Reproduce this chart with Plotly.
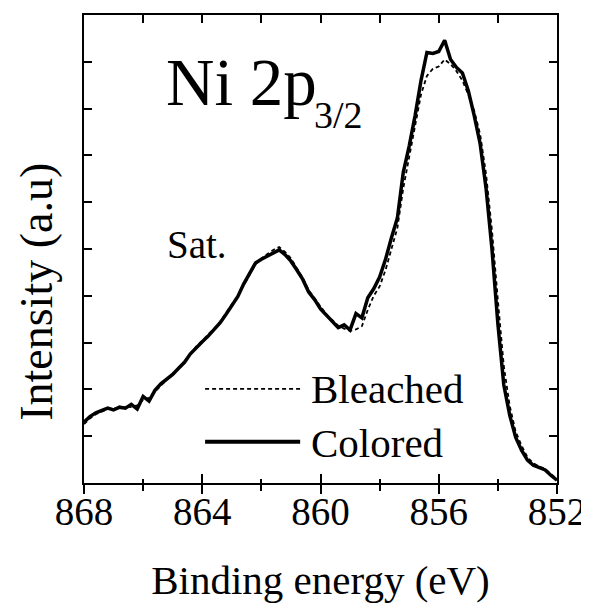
import plotly.graph_objects as go

energy = [868.0, 867.8, 867.6, 867.4, 867.2, 867.0, 866.8, 866.6, 866.4, 866.2,
          866.0, 865.8, 865.6, 865.4, 865.2, 865.0, 864.8, 864.6, 864.4, 864.2,
          864.0, 863.8, 863.6, 863.4, 863.2, 863.0, 862.8, 862.6, 862.4, 862.2,
          862.0, 861.8, 861.6, 861.4, 861.2, 861.0, 860.8, 860.6, 860.4, 860.2,
          860.0, 859.8, 859.6, 859.4, 859.2, 859.0, 858.8, 858.6, 858.4, 858.2,
          858.0, 857.8, 857.6, 857.4, 857.2, 857.0, 856.8, 856.6, 856.4, 856.2,
          856.0, 855.8, 855.6, 855.4, 855.2, 855.0, 854.8, 854.6, 854.4, 854.2,
          854.0, 853.8, 853.6, 853.4, 853.2, 853.0, 852.8, 852.6, 852.4, 852.2,
          852.0]

colored = [1.30, 1.42, 1.50, 1.55, 1.60, 1.56, 1.62, 1.60, 1.68, 1.58,
           1.85, 1.75, 1.98, 2.12, 2.22, 2.32, 2.45, 2.58, 2.76, 2.90,
           3.02, 3.14, 3.28, 3.42, 3.60, 3.78, 3.98, 4.25, 4.48, 4.70,
           4.78, 4.85, 4.92, 4.98, 4.88, 4.74, 4.55, 4.35, 4.08, 3.92,
           3.72, 3.58, 3.45, 3.32, 3.38, 3.27, 3.62, 3.53, 3.96, 4.15,
           4.40, 4.78, 5.24, 5.66, 6.64, 7.20, 7.85, 8.60, 9.20, 9.18,
           9.22, 9.46, 9.05, 8.88, 8.76, 8.38, 7.85, 7.25, 6.30, 5.00,
           3.40, 2.10, 1.45, 0.98, 0.70, 0.49, 0.38, 0.32, 0.28, 0.16,
           0.06]

bleached = [1.26, 1.38, 1.47, 1.52, 1.58, 1.60, 1.58, 1.64, 1.62, 1.66,
            1.78, 1.82, 1.95, 2.08, 2.20, 2.34, 2.44, 2.60, 2.74, 2.92,
            3.04, 3.16, 3.30, 3.44, 3.62, 3.80, 4.00, 4.22, 4.46, 4.68,
            4.80, 4.90, 4.98, 5.04, 4.94, 4.80, 4.60, 4.38, 4.12, 3.95,
            3.76, 3.60, 3.48, 3.36, 3.30, 3.25, 3.28, 3.35, 3.70, 4.00,
            4.20, 4.55, 5.00, 5.45, 6.30, 6.95, 7.60, 8.30, 8.70, 8.85,
            8.90, 9.05, 8.95, 8.80, 8.60, 8.30, 7.95, 7.45, 6.60, 5.40,
            3.90, 2.50, 1.65, 1.10, 0.80, 0.55, 0.42, 0.35, 0.30, 0.20,
            0.08]

x_ticks = [868, 864, 860, 856, 852]
series_names = ["Bleached", "Colored"]

FONT = "Liberation Serif"

fig = go.Figure()
fig.add_trace(go.Scatter(x=energy, y=bleached, mode="lines", name=series_names[0],
                         line=dict(color="black", width=1.8, dash="4px,3px"),
                         showlegend=False))
fig.add_trace(go.Scatter(x=energy, y=colored, mode="lines", name=series_names[1],
                         line=dict(color="black", width=3.5),
                         showlegend=False))

# manual legend (long line samples like the original)
fig.add_shape(type="line", xref="paper", yref="paper", x0=0.256, x1=0.457,
              y0=0.201, y1=0.201, line=dict(color="black", width=1.8, dash="4px,3px"))
fig.add_shape(type="line", xref="paper", yref="paper", x0=0.256, x1=0.457,
              y0=0.088, y1=0.088, line=dict(color="black", width=4))
fig.add_annotation(xref="paper", yref="paper", x=0.476, y=0.201, text=series_names[0],
                   showarrow=False, xanchor="left", yanchor="middle",
                   font=dict(family=FONT, size=41, color="black"))
fig.add_annotation(xref="paper", yref="paper", x=0.476, y=0.086, text=series_names[1],
                   showarrow=False, xanchor="left", yanchor="middle",
                   font=dict(family=FONT, size=41, color="black"))

fig.add_annotation(xref="paper", yref="paper", x=0.170, y=0.857, text="Ni 2p",
                   showarrow=False, xanchor="left", yanchor="middle",
                   font=dict(family=FONT, size=67, color="black"))
fig.add_annotation(xref="paper", yref="paper", x=0.482, y=0.787, text="3/2",
                   showarrow=False, xanchor="left", yanchor="middle",
                   font=dict(family=FONT, size=38, color="black"))
fig.add_annotation(xref="paper", yref="paper", x=0.172, y=0.509, text="Sat.",
                   showarrow=False, xanchor="left", yanchor="middle",
                   font=dict(family=FONT, size=39, color="black"))

# y-axis title (placed lower than centre, as in the original)
fig.add_annotation(xref="paper", yref="paper", x=-0.102, y=0.408, text="Intensity (a.u)",
                   showarrow=False, xanchor="center", yanchor="middle", textangle=-90,
                   font=dict(family=FONT, size=46, color="black"))

fig.update_layout(
    width=581, height=595,
    margin=dict(l=76, r=32, t=7, b=120, autoexpand=False),
    paper_bgcolor="white", plot_bgcolor="white",
    font=dict(family=FONT, color="black"),
    showlegend=False,
    xaxis=dict(range=[868, 852], tickvals=x_ticks, ticktext=[str(v) for v in x_ticks],
               ticks="outside", ticklen=9, tickwidth=2, tickcolor="black", automargin=False,
               ticklabelstandoff=-16,
               minor=dict(dtick=2, tick0=852, ticks="outside", ticklen=6, tickwidth=2, tickcolor="black"),
               showline=True, linewidth=2, linecolor="black", showgrid=False, zeroline=False,
               tickfont=dict(family=FONT, size=39, color="black"),
               title=dict(text="Binding energy (eV)", font=dict(family=FONT, size=41, color="black"),
                          standoff=34)),
    xaxis2=dict(range=[868, 852], overlaying="x", side="top", anchor="y", automargin=False,
                dtick=2, tick0=852, ticks="inside", ticklen=8, tickwidth=2, tickcolor="black",
                showticklabels=False, showline=True, linewidth=2, linecolor="black",
                showgrid=False, zeroline=False),
    xaxis3=dict(range=[868, 852], overlaying="x", side="bottom", anchor="y", automargin=False,
                tickvals=x_ticks, ticks="inside", ticklen=9, tickwidth=2, tickcolor="black",
                minor=dict(dtick=2, tick0=852, ticks="inside", ticklen=4, tickwidth=2, tickcolor="black"),
                showticklabels=False, showline=False, showgrid=False, zeroline=False),
    yaxis=dict(range=[0, 10], dtick=1, ticks="inside", ticklen=8, tickwidth=2, tickcolor="black",
               showticklabels=False, showline=True, linewidth=2, linecolor="black", automargin=False,
               mirror="ticks", showgrid=False, zeroline=False),
)
fig.add_trace(go.Scatter(x=[None], y=[None], xaxis="x2", showlegend=False, hoverinfo="skip"))
fig.add_trace(go.Scatter(x=[None], y=[None], xaxis="x3", showlegend=False, hoverinfo="skip"))

fig.write_html("out.html")
